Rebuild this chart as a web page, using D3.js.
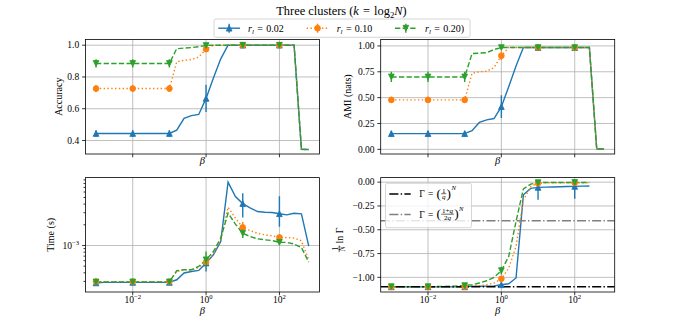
<!DOCTYPE html>
<html lang="en">
<head>
<meta charset="utf-8">
<title>Three clusters</title>
<script src="https://d3js.org/d3.v7.min.js"></script>
<style>
  html, body { margin: 0; padding: 0; background: #fff; }
  text { font-family: "Liberation Serif", "DejaVu Serif", serif; fill: #000; }
  .grid line { stroke: #b0b0b0; stroke-width: 0.8px; }
  .frame { fill: none; stroke: #000; stroke-width: 0.8px; }
  .tick { stroke: #000; stroke-width: 0.8px; }
</style>
</head>
<body>
<script>
// beta grid (log-spaced, 0.2 decade step)
var beta = [0.001, 0.001585, 0.002512, 0.003981, 0.00631, 0.01, 0.01585, 0.02512, 0.03981, 0.0631,
            0.1, 0.1585, 0.2512, 0.3981, 0.631, 1, 1.585, 2.512, 3.981, 6.31,
            10, 15.85, 25.12, 39.81, 63.1, 100, 158.5, 251.2, 398.1, 631];
var markIdx = [0, 5, 10, 15, 20, 25];
var rlValues = ["0.02", "0.10", "0.20)"];

var xTicks = [0.01, 1, 100];
var xTickExp = ["\u22122", "0", "2"];

// Accuracy
var accBlue = [0.444, 0.444, 0.444, 0.444, 0.444, 0.444, 0.444, 0.444, 0.444, 0.444, 0.444,
               0.465, 0.54, 0.557, 0.564, 0.665, 0.794, 0.914,
               1.0, 1.0, 1.0, 1.0, 1.0, 1.0, 1.0, 1.0, 1.0, 1.0, 0.345, 0.343];
var accOrange = [0.727, 0.727, 0.727, 0.727, 0.727, 0.727, 0.727, 0.727, 0.727, 0.727, 0.727,
                 0.895, 0.905, 0.91, 0.925, 0.975,
                 1.0, 1.0, 1.0, 1.0, 1.0, 1.0, 1.0, 1.0, 1.0, 1.0, 1.0, 1.0, 0.345, 0.343];
var accGreen = [0.885, 0.885, 0.885, 0.885, 0.885, 0.885, 0.885, 0.885, 0.885, 0.885, 0.885,
                0.978, 0.982, 0.985, 0.99, 0.998,
                1.0, 1.0, 1.0, 1.0, 1.0, 1.0, 1.0, 1.0, 1.0, 1.0, 1.0, 1.0, 0.345, 0.343];
var accErrBlue = [0.02, 0.02, 0.02, 0.086, 0.003, 0.003];
var accErrOrange = [0.022, 0.022, 0.022, 0.012, 0.003, 0.003];
var accErrGreen = [0.026, 0.026, 0.026, 0.006, 0.003, 0.003];

// AMI
var amiBlue = [0.152, 0.152, 0.152, 0.152, 0.152, 0.152, 0.152, 0.152, 0.152, 0.152, 0.152,
               0.18, 0.26, 0.285, 0.298, 0.413, 0.606, 0.805, 0.985,
               0.984, 0.984, 0.984, 0.984, 0.984, 0.984, 0.984, 0.984, 0.984, 0.003, 0.003];
var amiOrange = [0.478, 0.478, 0.478, 0.478, 0.478, 0.478, 0.478, 0.478, 0.478, 0.478, 0.478,
                 0.735, 0.75, 0.755, 0.79, 0.905,
                 0.984, 0.984, 0.984, 0.984, 0.984, 0.984, 0.984, 0.984, 0.984, 0.984, 0.984, 0.984, 0.003, 0.003];
var amiGreen = [0.70, 0.70, 0.70, 0.70, 0.70, 0.70, 0.70, 0.70, 0.70, 0.70, 0.70,
                0.926, 0.93, 0.935, 0.965, 0.984,
                0.984, 0.984, 0.984, 0.984, 0.984, 0.984, 0.984, 0.984, 0.984, 0.984, 0.984, 0.984, 0.003, 0.003];
var amiErrBlue = [0.028, 0.028, 0.028, 0.11, 0.008, 0.008];
var amiErrOrange = [0.03, 0.03, 0.03, 0.04, 0.008, 0.008];
var amiErrGreen = [0.05, 0.05, 0.05, 0.01, 0.008, 0.008];

// Time (s)
var timeBlue = [2.85e-4, 2.9e-4, 2.9e-4, 2.9e-4, 2.9e-4, 2.9e-4, 2.9e-4, 2.9e-4, 2.9e-4, 2.9e-4, 2.9e-4,
                3.17e-4, 3.98e-4, 4.19e-4, 4.34e-4, 5.55e-4, 7.33e-4, 1.14e-3, 8.34e-3, 5.15e-3,
                4.07e-3, 3.53e-3, 3.12e-3, 3.04e-3, 3.02e-3, 2.90e-3, 2.79e-3, 2.94e-3, 2.88e-3, 9.8e-4];
var timeOrange = [2.98e-4, 2.98e-4, 2.98e-4, 2.98e-4, 2.98e-4, 2.98e-4, 2.98e-4, 2.98e-4, 2.98e-4, 2.98e-4, 2.98e-4,
                  4.19e-4, 4.44e-4, 4.37e-4, 4.79e-4, 5.73e-4, 7.5e-4, 1.21e-3, 3.61e-3, 2.5e-3,
                  1.83e-3, 1.64e-3, 1.51e-3, 1.43e-3, 1.38e-3, 1.31e-3, 1.31e-3, 1.28e-3, 1.17e-3, 6.19e-4];
var timeGreen = [2.95e-4, 2.95e-4, 2.95e-4, 2.95e-4, 2.95e-4, 2.95e-4, 2.95e-4, 2.95e-4, 2.95e-4, 2.95e-4, 2.95e-4,
                 4.29e-4, 4.44e-4, 4.44e-4, 4.95e-4, 6.19e-4, 8.18e-4, 1.28e-3, 2.96e-3, 2.05e-3,
                 1.51e-3, 1.35e-3, 1.25e-3, 1.21e-3, 1.18e-3, 1.11e-3, 1.11e-3, 1.05e-3, 9.35e-4, 5.73e-4];
var timeErrBlue = [[1.5e-5, 1.5e-5], [1.5e-5, 1.5e-5], [1.5e-5, 1.5e-5], [1.36e-4, 1.0e-4], [1.52e-3, 1.71e-3], [1.03e-3, 2.29e-3]];
var timeErrOrange = [[1.5e-5, 1.5e-5], [1.5e-5, 1.5e-5], [1.5e-5, 1.5e-5], [5e-5, 5e-5], [1.4e-4, 3.6e-4], [1e-4, 1e-4]];
var timeErrGreen = [[2e-5, 2e-5], [2e-5, 2e-5], [2e-5, 2e-5], [1.24e-4, 2.0e-4], [2.3e-4, 1.8e-4], [8e-5, 8e-5]];
var timeMinor = [3e-4, 4e-4, 5e-4, 6e-4, 7e-4, 8e-4, 9e-4, 2e-3, 3e-3, 4e-3, 5e-3, 6e-3, 7e-3, 8e-3, 9e-3];

// (1/N) ln Gamma
var gamBlue = [-1.1, -1.1, -1.1, -1.1, -1.1, -1.1, -1.1, -1.1, -1.1, -1.1, -1.1,
               -1.095, -1.093, -1.092, -1.09, -1.078, -1.067, -1.007, -0.133, -0.065,
               -0.055, -0.052, -0.05, -0.048, -0.046, -0.044, -0.042, -0.04];
var gamOrange = [-1.1, -1.1, -1.1, -1.1, -1.1, -1.1, -1.1, -1.1, -1.1, -1.1, -1.097,
                 -1.09, -1.088, -1.078, -1.06, -1.015, -0.903, -0.676, -0.186, -0.046,
                 -0.011, -0.006, -0.006, -0.006, -0.006, -0.006, -0.006, -0.006];
var gamGreen = [-1.098, -1.098, -1.098, -1.098, -1.098, -1.098, -1.097, -1.095, -1.093, -1.09, -1.087,
                -1.078, -1.06, -1.036, -1.0, -0.93, -0.78, -0.413, -0.07, -0.021,
                -0.005, -0.003, -0.003, -0.003, -0.003, -0.003, -0.003, -0.003];
var gamErrBlue = [[0.01, 0.01], [0.01, 0.01], [0.01, 0.01], [0.02, 0.02], [0.13, 0.05], [0.13, 0.035]];
var gamErrOrange = [[0.01, 0.01], [0.01, 0.01], [0.01, 0.01], [0.02, 0.02], [0.01, 0.01], [0.01, 0.01]];
var gamErrGreen = [[0.028, 0.028], [0.028, 0.028], [0.028, 0.028], [0.04, 0.04], [0.01, 0.01], [0.01, 0.01]];
var gammaLines = [-1.0986, -0.4055];

var W = 683, H = 328;
var colors = ["#1f77b4", "#ff7f0e", "#2ca02c"];
var dashes = [null, "1.4,2.4", "5.3,2.3"];
var markerKind = ["up", "circle", "down"];
var lw = 1.4;
var fs = 9.5;
var labFs = 10;
var msp = "\u2004";   // math space around "="

var svg = d3.select("body").append("svg").attr("width", W).attr("height", H);

// text with italic / sub / sup pieces
function rich(sel, parts, size) {
    var off = 0;
    parts.forEach(function(p) {
        var want = p.sub ? size * 0.25 : (p.sup ? -size * 0.42 : 0);
        var ts = sel.append("tspan").text(p.t);
        if (want - off !== 0) ts.attr("dy", want - off);
        off = want;
        if (p.i) ts.attr("font-style", "italic");
        if (p.sub || p.sup) ts.attr("font-size", size * 0.7);
    });
}

function frac(g, x, yMid, num, den, size) {
    var n = g.append("text").attr("font-size", size).attr("text-anchor", "middle");
    rich(n, num, size);
    var d = g.append("text").attr("font-size", size).attr("text-anchor", "middle");
    rich(d, den, size);
    var w = Math.max(n.node().getComputedTextLength(), d.node().getComputedTextLength()) + 1.5;
    n.attr("x", x + w / 2).attr("y", yMid - 1.2);
    d.attr("x", x + w / 2).attr("y", yMid + size * 0.75 + 0.3);
    g.append("line").attr("x1", x).attr("x2", x + w).attr("y1", yMid).attr("y2", yMid)
        .attr("stroke", "#000").attr("stroke-width", 0.6);
    return w;
}

function marker(g, kind, cx, cy, color) {
    var r = 2.85;
    if (kind === "circle") {
        g.append("circle").attr("cx", cx).attr("cy", cy).attr("r", r)
            .attr("fill", color).attr("stroke", color).attr("stroke-width", 0.9);
    } else {
        var s = kind === "up" ? 1 : -1;
        var pts = [[cx, cy - s * r], [cx - r, cy + s * r], [cx + r, cy + s * r]];
        g.append("path").attr("d", "M" + pts.join("L") + "Z")
            .attr("fill", color).attr("stroke", color).attr("stroke-width", 0.9)
            .attr("stroke-linejoin", "miter");
    }
}

var xDomain = [Math.pow(10, -3.29), Math.pow(10, 3.09)];

var panels = [
    {l: 85.4, r: 319.4, t: 39.4, b: 154, log: false, dom: [0.315, 1.0365],
     ticks: [0.4, 0.6, 0.8, 1.0], fmt: d3.format(".1f"),
     ys: [accBlue, accOrange, accGreen], es: [accErrBlue, accErrOrange, accErrGreen],
     label: "Accuracy", labX: 59, bottomLabels: false, betaY: 163.5},
    {l: 380.7, r: 614.7, t: 39.4, b: 154, log: false, dom: [-0.045, 1.063],
     ticks: [0, 0.25, 0.5, 0.75, 1.0], fmt: d3.format(".2f"),
     ys: [amiBlue, amiOrange, amiGreen], es: [amiErrBlue, amiErrOrange, amiErrGreen],
     label: "AMI (nats)", labX: 347.5, bottomLabels: false, betaY: 163.5},
    {l: 85.4, r: 319.4, t: 177.6, b: 292, log: true, dom: [Math.pow(10, -3.677), Math.pow(10, -2.012)],
     ticks: [1e-3], minor: timeMinor,
     ys: [timeBlue, timeOrange, timeGreen], es: [timeErrBlue, timeErrOrange, timeErrGreen],
     label: "Time (s)", labX: 51, bottomLabels: true, betaY: 313.5},
    {l: 380.7, r: 614.7, t: 177.6, b: 292, log: false, dom: [-1.154, 0.048],
     ticks: [-1.0, -0.75, -0.5, -0.25, 0], fmt: d3.format(".2f"),
     ys: [gamBlue, gamOrange, gamGreen], es: [gamErrBlue, gamErrOrange, gamErrGreen],
     label: null, labX: 340, bottomLabels: true, betaY: 313.5, hlines: gammaLines}
];

panels.forEach(function(p, k) {
    var x = d3.scaleLog().domain(xDomain).range([p.l, p.r]);
    var y = (p.log ? d3.scaleLog() : d3.scaleLinear()).domain(p.dom).range([p.b, p.t]);
    var g = svg.append("g");

    svg.append("clipPath").attr("id", "clip" + k).append("rect")
        .attr("x", p.l).attr("y", p.t).attr("width", p.r - p.l).attr("height", p.b - p.t);

    // grid
    var grid = g.append("g").attr("class", "grid");
    xTicks.forEach(function(v) {
        grid.append("line").attr("x1", x(v)).attr("x2", x(v)).attr("y1", p.t).attr("y2", p.b);
    });
    p.ticks.forEach(function(v) {
        grid.append("line").attr("x1", p.l).attr("x2", p.r).attr("y1", y(v)).attr("y2", y(v));
    });

    var plot = g.append("g").attr("clip-path", "url(#clip" + k + ")");
    var line = d3.line().x(function(d, i) { return x(beta[i]); }).y(function(d) { return y(d); });

    p.ys.forEach(function(vals, s) {
        plot.append("path").attr("d", line(vals)).attr("fill", "none")
            .attr("stroke", colors[s]).attr("stroke-width", lw)
            .attr("stroke-dasharray", dashes[s]);
    });

    if (p.hlines) {
        plot.append("line").attr("x1", p.l).attr("x2", p.r)
            .attr("y1", y(p.hlines[0])).attr("y2", y(p.hlines[0]))
            .attr("stroke", "#000").attr("stroke-width", lw).attr("stroke-dasharray", "9.1,2.3,1.4,2.3");
        plot.append("line").attr("x1", p.l).attr("x2", p.r)
            .attr("y1", y(p.hlines[1])).attr("y2", y(p.hlines[1]))
            .attr("stroke", "#808080").attr("stroke-width", lw).attr("stroke-dasharray", "9.1,2.3,1.4,2.3");
    }

    p.ys.forEach(function(vals, s) {
        markIdx.forEach(function(idx, m) {
            var e = p.es[s][m];
            var lo = Array.isArray(e) ? e[0] : e;
            var hi = Array.isArray(e) ? e[1] : e;
            plot.append("line").attr("x1", x(beta[idx])).attr("x2", x(beta[idx]))
                .attr("y1", y(vals[idx] - lo)).attr("y2", y(vals[idx] + hi))
                .attr("stroke", colors[s]).attr("stroke-width", lw);
        });
        markIdx.forEach(function(idx) {
            marker(plot, markerKind[s], x(beta[idx]), y(vals[idx]), colors[s]);
        });
    });

    // frame
    g.append("rect").attr("class", "frame").attr("x", p.l).attr("y", p.t)
        .attr("width", p.r - p.l).attr("height", p.b - p.t);

    // x ticks
    xTicks.forEach(function(v, j) {
        g.append("line").attr("class", "tick").attr("x1", x(v)).attr("x2", x(v))
            .attr("y1", p.b).attr("y2", p.b + 3.3);
        if (p.bottomLabels) {
            var t = g.append("text").attr("x", x(v)).attr("y", p.b + 10.5)
                .attr("text-anchor", "middle").attr("font-size", fs);
            rich(t, [{t: "10"}, {t: xTickExp[j], sup: true}], fs);
        }
    });
    g.append("text").attr("x", (p.l + p.r) / 2).attr("y", p.betaY).attr("text-anchor", "middle")
        .attr("font-size", labFs + 0.5).attr("font-style", "italic").text("\u03b2");

    // y ticks
    p.ticks.forEach(function(v) {
        g.append("line").attr("class", "tick").attr("x1", p.l - 3.3).attr("x2", p.l)
            .attr("y1", y(v)).attr("y2", y(v));
        var t = g.append("text").attr("x", p.l - 6.2).attr("y", y(v) + 3.3)
            .attr("text-anchor", "end").attr("font-size", fs);
        if (p.log) rich(t, [{t: "10"}, {t: "\u22123", sup: true}], fs);
        else t.text(p.fmt(v));
    });
    if (p.minor) {
        p.minor.forEach(function(v) {
            g.append("line").attr("class", "tick").attr("x1", p.l - 1.9).attr("x2", p.l)
                .attr("y1", y(v)).attr("y2", y(v)).attr("stroke-width", 0.6);
        });
    }

    // y label
    var cy = (p.t + p.b) / 2;
    if (p.label) {
        g.append("text").attr("transform", "translate(" + (p.labX + 3.4) + "," + cy + ") rotate(-90)")
            .attr("text-anchor", "middle").attr("font-size", labFs).text(p.label);
    } else {
        var lab = g.append("g").attr("transform", "translate(" + (p.labX + 2) + "," + (cy + 5) + ") rotate(-90)");
        var inner = lab.append("g");
        var w = frac(inner, 0, -2.8, [{t: "1"}], [{t: "N", i: true}], labFs * 0.78);
        var ln = inner.append("text").attr("x", w + 2).attr("y", 1).attr("font-size", labFs).text("ln \u0393");
        var total = w + 2 + ln.node().getComputedTextLength();
        inner.attr("transform", "translate(" + (-total / 2) + ",0)");
    }

    // legend inside the last panel
    if (p.hlines) {
        var lg = svg.append("g");
        lg.append("rect").attr("x", 385.5).attr("y", 183.3).attr("width", 86).attr("height", 44.4)
            .attr("rx", 2).attr("fill", "#fff").attr("fill-opacity", 0.8)
            .attr("stroke", "#cccccc").attr("stroke-width", 0.8);
        var rowsY = [194, 214.5];
        var lcol = ["#000", "#808080"];
        rowsY.forEach(function(ry, j) {
            lg.append("line").attr("x1", 389.3).attr("x2", 410.7).attr("y1", ry).attr("y2", ry)
                .attr("stroke", lcol[j]).attr("stroke-width", lw).attr("stroke-dasharray", "9.1,2.3,1.4,2.3");
        });
        gammaLabel(lg, 419.3, rowsY[0], [{t: "1"}], [{t: "q", i: true}]);
        gammaLabel(lg, 419.3, rowsY[1], [{t: "1+"}, {t: "q", i: true}], [{t: "2"}, {t: "q", i: true}]);
    }
});

function gammaLabel(g, x, yMid, num, den) {
    var cx = x;
    var a = g.append("text").attr("x", cx).attr("y", yMid + fs * 0.35).attr("font-size", fs).text("\u0393" + msp + "=" + msp);
    cx += a.node().getComputedTextLength();
    var lp = g.append("text").attr("x", cx).attr("y", yMid + fs * 0.42).attr("font-size", fs * 1.4).text("(");
    cx += lp.node().getComputedTextLength() + 0.3;
    cx += frac(g, cx, yMid - 0.3, num, den, fs * 0.75) + 0.3;
    var rp = g.append("text").attr("x", cx).attr("y", yMid + fs * 0.42).attr("font-size", fs * 1.4).text(")");
    cx += rp.node().getComputedTextLength();
    g.append("text").attr("x", cx + 0.5).attr("y", yMid - fs * 0.42).attr("font-size", fs * 0.7)
        .attr("font-style", "italic").text("N");
}

// title
var title = svg.append("text").attr("x", 341.5).attr("y", 14.5).attr("text-anchor", "middle").attr("font-size", 12.4);
rich(title, [{t: "Three clusters ("}, {t: "k", i: true}, {t: msp + "=" + msp + "log"}, {t: "2", sub: true}, {t: "N", i: true}, {t: ")"}], 12.4);

// top legend
var leg = svg.append("g");
leg.append("rect").attr("x", 214).attr("y", 19).attr("width", 256).attr("height", 18.3).attr("rx", 2)
    .attr("fill", "#fff").attr("fill-opacity", 0.8).attr("stroke", "#cccccc").attr("stroke-width", 0.8);
var handleX = [218.3, 306.7, 395];
var labelX = [248, 336.7, 425];
rlValues.forEach(function(v, s) {
    var hy = 28.2;
    leg.append("line").attr("x1", handleX[s]).attr("x2", handleX[s] + 21.7).attr("y1", hy).attr("y2", hy)
        .attr("stroke", colors[s]).attr("stroke-width", lw).attr("stroke-dasharray", dashes[s]);
    leg.append("line").attr("x1", handleX[s] + 10.85).attr("x2", handleX[s] + 10.85)
        .attr("y1", hy - 4.5).attr("y2", hy + 4.5).attr("stroke", colors[s]).attr("stroke-width", lw);
    marker(leg, markerKind[s], handleX[s] + 10.85, hy, colors[s]);
    var t = leg.append("text").attr("x", labelX[s]).attr("y", 31.5).attr("font-size", 10);
    rich(t, [{t: "r", i: true}, {t: "l", i: true, sub: true}, {t: msp + "=" + msp + v}], 10);
});
</script>
</body>
</html>
